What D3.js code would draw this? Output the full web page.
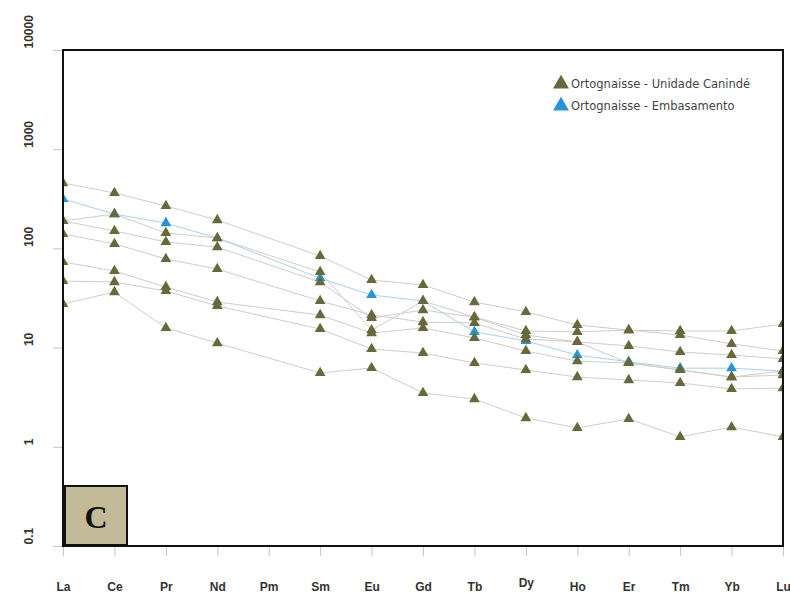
<!DOCTYPE html>
<html>
<head>
<meta charset="utf-8">
<script src="https://cdn.jsdelivr.net/npm/d3@7"></script>
<style>
  body { margin: 0; background: #fff; }
  svg { display: block; }
</style>
</head>
<body>
<div id="chart"></div>
<script>
// Padrão de ETR normalizado - ortognaisses

// elementos (eixo x)
const elements = ['La', 'Ce', 'Pr', 'Nd', 'Pm', 'Sm', 'Eu', 'Gd', 'Tb', 'Dy', 'Ho', 'Er', 'Tm', 'Yb', 'Lu'];

// ticks do eixo y (log)
const yTicks = [0.1, 1, 10, 100, 1000, 10000];

// Ortognaisse - Unidade Canindé (Pm sem dado)
const caninde1 = [456, 362, 268, 193, null, 83.8, 48.0, 42.8, 28.8, 22.9, 16.9, 15.0, 14.7, 14.7, 17.3];
const caninde2 = [189, 222, 143, 127, null, 57.8, 15.0, 29.5, 20.3, 14.7, 14.4, 15.0, 13.4, 10.9, 9.24];
const caninde3 = [189, 150, 116, 103, null, 45.8, 19.9, 23.9, 20.3, 13.4, 11.4, 10.4, 9.03, 8.42, 7.68];
const caninde4 = [140, 111, 78.2, 62.0, null, 29.5, 21.3, 18.1, 17.7, 12.2, 11.4, 7.00, 5.95, 5.05, 5.81];
const caninde5 = [73.0, 59.2, 40.8, 28.8, null, 21.3, 14.0, 15.8, 12.5, 9.24, 7.30, 7.00, 5.95, 5.05, 5.29];
const caninde6 = [46.9, 45.8, 37.2, 26.3, null, 15.4, 9.68, 8.82, 7.00, 5.95, 5.05, 4.71, 4.40, 3.83, 3.91];
const caninde7 = [27.5, 36.3, 15.8, 11.1, null, 5.55, 6.23, 3.49, 3.03, 1.95, 1.55, 1.91, 1.26, 1.58, 1.26];

// Ortognaisse - Embasamento
const embasamento = [315, 222, 180, 127, null, 50.0, 33.9, 29.5, 14.4, 11.7, 8.4, 7.2, 6.2, 6.2, 5.8];

const canindeSeries = [caninde1, caninde2, caninde3, caninde4, caninde5, caninde6, caninde7];

const legendLabels = ['Ortognaisse - Unidade Canindé', 'Ortognaisse - Embasamento'];

const olive = '#68683a';
const blue = '#2496d8';

const width = 790, height = 593;
const plot = { left: 63, right: 783, top: 50, bottom: 546 };

const svg = d3.select('#chart').append('svg')
    .attr('width', width)
    .attr('height', height);

const x = d3.scalePoint()
    .domain(elements)
    .range([plot.left, plot.right]);

const y = d3.scaleLog()
    .domain([0.1, 10000])
    .range([plot.bottom, plot.top]);

// clip da área do gráfico
svg.append('defs').append('clipPath')
    .attr('id', 'plot-clip')
    .append('rect')
    .attr('x', plot.left)
    .attr('y', plot.top)
    .attr('width', plot.right - plot.left)
    .attr('height', plot.bottom - plot.top);

// eixo y
const yAxis = svg.append('g')
    .attr('transform', `translate(${plot.left},0)`)
    .call(d3.axisLeft(y)
        .tickValues(yTicks)
        .tickSize(10)
        .tickFormat(d => d < 1 ? '0.1' : d3.format('d')(d)));
yAxis.select('.domain').remove();
yAxis.selectAll('.tick line').attr('stroke', '#c4c4c4');
yAxis.selectAll('.tick text')
    .attr('x', null)
    .attr('dy', null)
    .attr('text-anchor', 'start')
    .attr('transform', 'translate(-30,-2) rotate(-90)')
    .style('font-family', '"Liberation Sans", Arial, sans-serif')
    .style('font-weight', 'bold')
    .style('font-size', '12px')
    .attr('fill', '#333');

// eixo x
const xAxis = svg.append('g')
    .attr('transform', `translate(0,${plot.bottom})`)
    .call(d3.axisBottom(x).tickSize(10));
xAxis.select('.domain').remove();
xAxis.selectAll('.tick line').attr('stroke', '#c4c4c4');
xAxis.selectAll('.tick text')
    .attr('y', d => d === 'Dy' ? 41 : 45)
    .attr('dy', null)
    .style('font-family', '"Liberation Sans", Arial, sans-serif')
    .style('font-weight', 'bold')
    .style('font-size', '12px')
    .attr('fill', '#333');

// área de dados
const g = svg.append('g').attr('clip-path', 'url(#plot-clip)');

const line = d3.line()
    .x(d => x(d.el))
    .y(d => y(d.v));

function toPoints(arr) {
    return elements.map((el, i) => ({ el, v: arr[i] })).filter(d => d.v != null);
}

// linhas
canindeSeries.forEach(s => {
    g.append('path')
        .datum(toPoints(s))
        .attr('fill', 'none')
        .attr('stroke', '#cdcdc8')
        .attr('stroke-width', 1)
        .attr('d', line);
});

g.append('path')
    .datum(toPoints(embasamento))
    .attr('fill', 'none')
    .attr('stroke', '#a8d2ec')
    .attr('stroke-width', 1)
    .attr('d', line);

const tri = d3.symbol().type(d3.symbolTriangle).size(50);

// pontos embasamento (por baixo)
g.selectAll('.pt-emb')
    .data(toPoints(embasamento))
    .enter()
    .append('path')
    .attr('class', 'pt-emb')
    .attr('d', tri)
    .attr('fill', blue)
    .attr('transform', d => `translate(${x(d.el)},${y(d.v)})`);

// pontos Canindé
canindeSeries.forEach((s, i) => {
    g.selectAll('.pt-can' + i)
        .data(toPoints(s))
        .enter()
        .append('path')
        .attr('class', 'pt-can' + i)
        .attr('d', tri)
        .attr('fill', olive)
        .attr('transform', d => `translate(${x(d.el)},${y(d.v)})`);
});

// moldura
svg.append('rect')
    .attr('x', plot.left)
    .attr('y', plot.top)
    .attr('width', plot.right - plot.left)
    .attr('height', plot.bottom - plot.top)
    .attr('fill', 'none')
    .attr('stroke', '#111')
    .attr('stroke-width', 2);

// legenda
const legTri = d3.symbol().type(d3.symbolTriangle).size(110);
const legColors = [olive, blue];
const legY = [84, 106];
legendLabels.forEach((lab, i) => {
    svg.append('path')
        .attr('d', legTri)
        .attr('fill', legColors[i])
        .attr('transform', `translate(561,${legY[i]})`);
    svg.append('text')
        .attr('x', 571)
        .attr('y', legY[i] + 4)
        .style('font-family', '"DejaVu Sans", Verdana, sans-serif')
        .style('font-size', '11.5px')
        .attr('fill', '#444')
        .text(lab);
});

// caixa "C"
svg.append('rect')
    .attr('x', 65)
    .attr('y', 486)
    .attr('width', 62)
    .attr('height', 59)
    .attr('fill', '#c3bb97')
    .attr('stroke', '#111')
    .attr('stroke-width', 2);

svg.append('text')
    .attr('x', 96)
    .attr('y', 528)
    .attr('text-anchor', 'middle')
    .style('font-family', '"Liberation Serif", "Times New Roman", serif')
    .style('font-weight', 'bold')
    .style('font-size', '32px')
    .attr('fill', '#111')
    .text('C');
</script>
</body>
</html>
